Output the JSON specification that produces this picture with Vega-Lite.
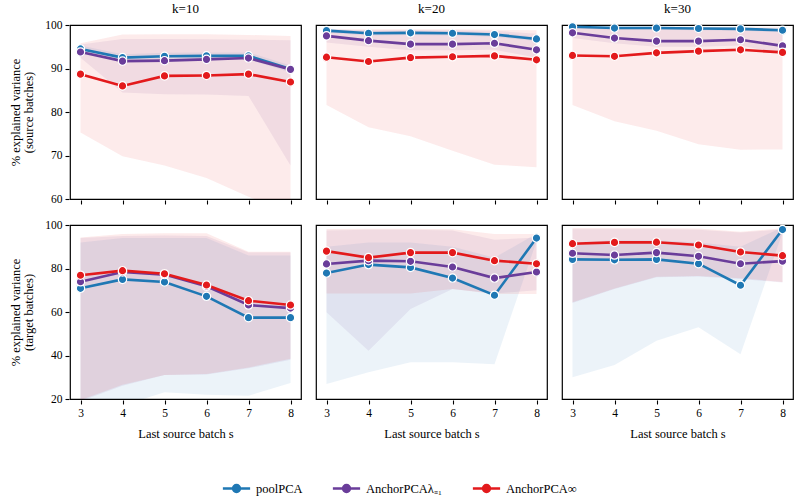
{
  "$schema": "https://vega.github.io/schema/vega-lite/v6.json",
  "background": "white",
  "padding": {"left": 9, "top": 3, "right": 5, "bottom": 5},
  "datasets": {
    "d": [
      {"set":"source","k":"k=10","s":3,"m":"poolPCA","v":94.5,"lo":93.7,"hi":95.3},
      {"set":"source","k":"k=10","s":4,"m":"poolPCA","v":92.5,"lo":91.7,"hi":93.3},
      {"set":"source","k":"k=10","s":5,"m":"poolPCA","v":92.8,"lo":92.0,"hi":93.6},
      {"set":"source","k":"k=10","s":6,"m":"poolPCA","v":92.9,"lo":92.1,"hi":93.7},
      {"set":"source","k":"k=10","s":7,"m":"poolPCA","v":92.9,"lo":92.1,"hi":93.7},
      {"set":"source","k":"k=10","s":8,"m":"poolPCA","v":89.9,"lo":89.1,"hi":90.7},
      {"set":"source","k":"k=10","s":3,"m":"AnchorPCAλ₌₁","v":93.8,"lo":92.5,"hi":95.5},
      {"set":"source","k":"k=10","s":4,"m":"AnchorPCAλ₌₁","v":91.7,"lo":84.5,"hi":96.8},
      {"set":"source","k":"k=10","s":5,"m":"AnchorPCAλ₌₁","v":91.8,"lo":84.1,"hi":96.8},
      {"set":"source","k":"k=10","s":6,"m":"AnchorPCAλ₌₁","v":92.1,"lo":84.0,"hi":96.7},
      {"set":"source","k":"k=10","s":7,"m":"AnchorPCAλ₌₁","v":92.4,"lo":83.7,"hi":96.6},
      {"set":"source","k":"k=10","s":8,"m":"AnchorPCAλ₌₁","v":89.8,"lo":67.7,"hi":96.5},
      {"set":"source","k":"k=10","s":3,"m":"AnchorPCA∞","v":88.7,"lo":75.3,"hi":95.8},
      {"set":"source","k":"k=10","s":4,"m":"AnchorPCA∞","v":86.0,"lo":69.8,"hi":97.8},
      {"set":"source","k":"k=10","s":5,"m":"AnchorPCA∞","v":88.3,"lo":67.7,"hi":97.9},
      {"set":"source","k":"k=10","s":6,"m":"AnchorPCA∞","v":88.4,"lo":64.8,"hi":97.9},
      {"set":"source","k":"k=10","s":7,"m":"AnchorPCA∞","v":88.7,"lo":60.5,"hi":97.7},
      {"set":"source","k":"k=10","s":8,"m":"AnchorPCA∞","v":86.9,"lo":57.0,"hi":97.5},

      {"set":"source","k":"k=20","s":3,"m":"poolPCA","v":98.7,"lo":98.2,"hi":99.2},
      {"set":"source","k":"k=20","s":4,"m":"poolPCA","v":98.1,"lo":97.6,"hi":98.6},
      {"set":"source","k":"k=20","s":5,"m":"poolPCA","v":98.2,"lo":97.7,"hi":98.7},
      {"set":"source","k":"k=20","s":6,"m":"poolPCA","v":98.1,"lo":97.6,"hi":98.6},
      {"set":"source","k":"k=20","s":7,"m":"poolPCA","v":97.8,"lo":97.3,"hi":98.3},
      {"set":"source","k":"k=20","s":8,"m":"poolPCA","v":96.8,"lo":96.3,"hi":97.3},
      {"set":"source","k":"k=20","s":3,"m":"AnchorPCAλ₌₁","v":97.5,"lo":96.0,"hi":98.8},
      {"set":"source","k":"k=20","s":4,"m":"AnchorPCAλ₌₁","v":96.4,"lo":95.0,"hi":98.8},
      {"set":"source","k":"k=20","s":5,"m":"AnchorPCAλ₌₁","v":95.6,"lo":94.2,"hi":98.8},
      {"set":"source","k":"k=20","s":6,"m":"AnchorPCAλ₌₁","v":95.6,"lo":94.2,"hi":98.8},
      {"set":"source","k":"k=20","s":7,"m":"AnchorPCAλ₌₁","v":95.8,"lo":94.3,"hi":98.7},
      {"set":"source","k":"k=20","s":8,"m":"AnchorPCAλ₌₁","v":94.3,"lo":92.5,"hi":98.0},
      {"set":"source","k":"k=20","s":3,"m":"AnchorPCA∞","v":92.6,"lo":81.6,"hi":99.0},
      {"set":"source","k":"k=20","s":4,"m":"AnchorPCA∞","v":91.6,"lo":76.5,"hi":99.0},
      {"set":"source","k":"k=20","s":5,"m":"AnchorPCA∞","v":92.5,"lo":74.4,"hi":99.0},
      {"set":"source","k":"k=20","s":6,"m":"AnchorPCA∞","v":92.7,"lo":71.1,"hi":99.0},
      {"set":"source","k":"k=20","s":7,"m":"AnchorPCA∞","v":92.9,"lo":67.9,"hi":98.9},
      {"set":"source","k":"k=20","s":8,"m":"AnchorPCA∞","v":92.0,"lo":67.3,"hi":98.8},

      {"set":"source","k":"k=30","s":3,"m":"poolPCA","v":99.6,"lo":99.2,"hi":100},
      {"set":"source","k":"k=30","s":4,"m":"poolPCA","v":99.3,"lo":98.9,"hi":99.7},
      {"set":"source","k":"k=30","s":5,"m":"poolPCA","v":99.3,"lo":98.9,"hi":99.7},
      {"set":"source","k":"k=30","s":6,"m":"poolPCA","v":99.2,"lo":98.8,"hi":99.6},
      {"set":"source","k":"k=30","s":7,"m":"poolPCA","v":99.1,"lo":98.7,"hi":99.5},
      {"set":"source","k":"k=30","s":8,"m":"poolPCA","v":98.8,"lo":98.4,"hi":99.2},
      {"set":"source","k":"k=30","s":3,"m":"AnchorPCAλ₌₁","v":98.2,"lo":97.0,"hi":99.5},
      {"set":"source","k":"k=30","s":4,"m":"AnchorPCAλ₌₁","v":97.0,"lo":95.8,"hi":99.4},
      {"set":"source","k":"k=30","s":5,"m":"AnchorPCAλ₌₁","v":96.3,"lo":95.0,"hi":99.4},
      {"set":"source","k":"k=30","s":6,"m":"AnchorPCAλ₌₁","v":96.3,"lo":95.0,"hi":99.4},
      {"set":"source","k":"k=30","s":7,"m":"AnchorPCAλ₌₁","v":96.6,"lo":95.3,"hi":99.3},
      {"set":"source","k":"k=30","s":8,"m":"AnchorPCAλ₌₁","v":95.2,"lo":93.3,"hi":99.0},
      {"set":"source","k":"k=30","s":3,"m":"AnchorPCA∞","v":93.0,"lo":81.6,"hi":99.5},
      {"set":"source","k":"k=30","s":4,"m":"AnchorPCA∞","v":92.8,"lo":77.9,"hi":99.5},
      {"set":"source","k":"k=30","s":5,"m":"AnchorPCA∞","v":93.6,"lo":75.7,"hi":99.5},
      {"set":"source","k":"k=30","s":6,"m":"AnchorPCA∞","v":94.0,"lo":72.6,"hi":99.5},
      {"set":"source","k":"k=30","s":7,"m":"AnchorPCA∞","v":94.3,"lo":71.3,"hi":99.5},
      {"set":"source","k":"k=30","s":8,"m":"AnchorPCA∞","v":93.7,"lo":71.4,"hi":99.5},

      {"set":"target","k":"k=10","s":3,"m":"poolPCA","v":70.9,"lo":18.0,"hi":92.0},
      {"set":"target","k":"k=10","s":4,"m":"poolPCA","v":75.0,"lo":17.0,"hi":94.0},
      {"set":"target","k":"k=10","s":5,"m":"poolPCA","v":73.8,"lo":23.1,"hi":94.0},
      {"set":"target","k":"k=10","s":6,"m":"poolPCA","v":67.2,"lo":22.0,"hi":94.0},
      {"set":"target","k":"k=10","s":7,"m":"poolPCA","v":57.4,"lo":21.5,"hi":86.0},
      {"set":"target","k":"k=10","s":8,"m":"poolPCA","v":57.4,"lo":27.4,"hi":86.0},
      {"set":"target","k":"k=10","s":3,"m":"AnchorPCAλ₌₁","v":73.9,"lo":19.0,"hi":94.0},
      {"set":"target","k":"k=10","s":4,"m":"AnchorPCAλ₌₁","v":78.4,"lo":26.1,"hi":95.0},
      {"set":"target","k":"k=10","s":5,"m":"AnchorPCAλ₌₁","v":77.2,"lo":31.0,"hi":95.2},
      {"set":"target","k":"k=10","s":6,"m":"AnchorPCAλ₌₁","v":71.8,"lo":31.3,"hi":95.0},
      {"set":"target","k":"k=10","s":7,"m":"AnchorPCAλ₌₁","v":63.2,"lo":34.1,"hi":87.4},
      {"set":"target","k":"k=10","s":8,"m":"AnchorPCAλ₌₁","v":61.8,"lo":38.1,"hi":87.4},
      {"set":"target","k":"k=10","s":3,"m":"AnchorPCA∞","v":76.9,"lo":19.5,"hi":94.2},
      {"set":"target","k":"k=10","s":4,"m":"AnchorPCA∞","v":79.0,"lo":26.5,"hi":95.9},
      {"set":"target","k":"k=10","s":5,"m":"AnchorPCA∞","v":77.6,"lo":31.0,"hi":96.2},
      {"set":"target","k":"k=10","s":6,"m":"AnchorPCA∞","v":72.4,"lo":31.5,"hi":96.2},
      {"set":"target","k":"k=10","s":7,"m":"AnchorPCA∞","v":65.2,"lo":34.5,"hi":87.7},
      {"set":"target","k":"k=10","s":8,"m":"AnchorPCA∞","v":63.2,"lo":38.5,"hi":87.7},

      {"set":"target","k":"k=20","s":3,"m":"poolPCA","v":77.9,"lo":26.9,"hi":90.0},
      {"set":"target","k":"k=20","s":4,"m":"poolPCA","v":81.8,"lo":32.3,"hi":92.0},
      {"set":"target","k":"k=20","s":5,"m":"poolPCA","v":80.5,"lo":36.9,"hi":92.0},
      {"set":"target","k":"k=20","s":6,"m":"poolPCA","v":75.6,"lo":36.9,"hi":90.0},
      {"set":"target","k":"k=20","s":7,"m":"poolPCA","v":67.7,"lo":36.0,"hi":85.0},
      {"set":"target","k":"k=20","s":8,"m":"poolPCA","v":94.0,"lo":92.5,"hi":96.0},
      {"set":"target","k":"k=20","s":3,"m":"AnchorPCAλ₌₁","v":82.1,"lo":59.9,"hi":97.5},
      {"set":"target","k":"k=20","s":4,"m":"AnchorPCAλ₌₁","v":83.6,"lo":42.2,"hi":97.8},
      {"set":"target","k":"k=20","s":5,"m":"AnchorPCAλ₌₁","v":83.3,"lo":61.4,"hi":97.8},
      {"set":"target","k":"k=20","s":6,"m":"AnchorPCAλ₌₁","v":80.7,"lo":70.6,"hi":97.5},
      {"set":"target","k":"k=20","s":7,"m":"AnchorPCAλ₌₁","v":75.6,"lo":68.5,"hi":93.2},
      {"set":"target","k":"k=20","s":8,"m":"AnchorPCAλ₌₁","v":78.4,"lo":70.0,"hi":94.3},
      {"set":"target","k":"k=20","s":3,"m":"AnchorPCA∞","v":88.0,"lo":68.5,"hi":98.2},
      {"set":"target","k":"k=20","s":4,"m":"AnchorPCA∞","v":85.0,"lo":68.5,"hi":98.3},
      {"set":"target","k":"k=20","s":5,"m":"AnchorPCA∞","v":87.3,"lo":68.5,"hi":98.3},
      {"set":"target","k":"k=20","s":6,"m":"AnchorPCA∞","v":87.3,"lo":70.6,"hi":98.0},
      {"set":"target","k":"k=20","s":7,"m":"AnchorPCA∞","v":83.6,"lo":68.3,"hi":95.9},
      {"set":"target","k":"k=20","s":8,"m":"AnchorPCA∞","v":82.2,"lo":68.3,"hi":95.9},

      {"set":"target","k":"k=30","s":3,"m":"poolPCA","v":84.2,"lo":30.0,"hi":92.0},
      {"set":"target","k":"k=30","s":4,"m":"poolPCA","v":84.0,"lo":35.6,"hi":93.0},
      {"set":"target","k":"k=30","s":5,"m":"poolPCA","v":84.2,"lo":46.8,"hi":93.0},
      {"set":"target","k":"k=30","s":6,"m":"poolPCA","v":82.2,"lo":53.0,"hi":92.0},
      {"set":"target","k":"k=30","s":7,"m":"poolPCA","v":72.3,"lo":40.6,"hi":90.0},
      {"set":"target","k":"k=30","s":8,"m":"poolPCA","v":97.9,"lo":96.5,"hi":99.0},
      {"set":"target","k":"k=30","s":3,"m":"AnchorPCAλ₌₁","v":87.0,"lo":64.1,"hi":98.0},
      {"set":"target","k":"k=30","s":4,"m":"AnchorPCAλ₌₁","v":86.2,"lo":70.6,"hi":98.0},
      {"set":"target","k":"k=30","s":5,"m":"AnchorPCAλ₌₁","v":87.3,"lo":76.0,"hi":98.0},
      {"set":"target","k":"k=30","s":6,"m":"AnchorPCAλ₌₁","v":85.6,"lo":76.3,"hi":97.8},
      {"set":"target","k":"k=30","s":7,"m":"AnchorPCAλ₌₁","v":82.2,"lo":75.2,"hi":96.5},
      {"set":"target","k":"k=30","s":8,"m":"AnchorPCAλ₌₁","v":83.4,"lo":73.6,"hi":98.0},
      {"set":"target","k":"k=30","s":3,"m":"AnchorPCA∞","v":91.4,"lo":64.5,"hi":98.6},
      {"set":"target","k":"k=30","s":4,"m":"AnchorPCA∞","v":92.0,"lo":70.8,"hi":98.6},
      {"set":"target","k":"k=30","s":5,"m":"AnchorPCA∞","v":92.1,"lo":76.2,"hi":98.6},
      {"set":"target","k":"k=30","s":6,"m":"AnchorPCA∞","v":90.8,"lo":76.5,"hi":98.4},
      {"set":"target","k":"k=30","s":7,"m":"AnchorPCA∞","v":87.6,"lo":75.5,"hi":96.9},
      {"set":"target","k":"k=30","s":8,"m":"AnchorPCA∞","v":85.9,"lo":73.8,"hi":98.5}
    ]
  },
  "vconcat": [
    {
      "data": {"name": "d"},
      "transform": [{"filter": "datum.set === 'source'"}],
      "facet": {"column": {"field": "k", "type": "nominal", "header": {"title": null, "labelFontSize": 13, "labelFontWeight": "normal", "labelPadding": 3}}},
      "spacing": 13,
      "spec": {
        "width": 231,
        "height": 174,
        "encoding": {
          "x": {"field": "s", "type": "quantitative", "scale": {"domain": [2.75, 8.25], "nice": false, "zero": false}, "axis": {"values": [3,4,5,6,7,8], "labels": false, "title": null}},
          "color": {"field": "m", "type": "nominal", "scale": {"domain": ["poolPCA", "AnchorPCAλ₌₁", "AnchorPCA∞"], "range": ["#1f78b4", "#6a3d9a", "#e31a1c"]},
            "legend": {"title": null, "orient": "bottom", "direction": "horizontal", "offset": 38, "columnPadding": 24, "labelFontSize": 12.5, "labelOffset": 9, "symbolType": "M-1.5,0H-0.5M0.5,0H1.5M-0.38,0A0.38,0.38,0,1,0,0.38,0A0.38,0.38,0,1,0,-0.38,0Z", "symbolSize": 330, "symbolStrokeWidth": 2.5, "symbolOpacity": 1,
              "encode": {"symbols": {"update": {"fill": {"scale": "color", "field": "value"}, "stroke": {"scale": "color", "field": "value"}, "opacity": {"value": 1}, "strokeWidth": {"value": 2.5}}}}}}
        },
        "layer": [
          {"mark": {"type": "area", "opacity": 0.085, "clip": true},
           "encoding": {"y": {"field": "lo", "type": "quantitative", "scale": {"domain": [60, 100], "nice": false, "zero": false}, "axis": {"values": [60,70,80,90,100], "title": ["% explained variance", "(source batches)"]}}, "y2": {"field": "hi"}}},
          {"mark": {"type": "line", "strokeWidth": 2.6, "clip": true},
           "encoding": {"y": {"field": "v", "type": "quantitative"}}},
          {"mark": {"type": "point", "filled": true, "size": 70, "stroke": "white", "strokeWidth": 1.2, "opacity": 1, "clip": false},
           "encoding": {"y": {"field": "v", "type": "quantitative"}}}
        ]
      }
    },
    {
      "data": {"name": "d"},
      "transform": [{"filter": "datum.set === 'target'"}],
      "facet": {"column": {"field": "k", "type": "nominal", "header": null}},
      "spacing": 13,
      "spec": {
        "width": 231,
        "height": 174,
        "encoding": {
          "x": {"field": "s", "type": "quantitative", "scale": {"domain": [2.75, 8.25], "nice": false, "zero": false}, "axis": {"values": [3,4,5,6,7,8], "title": "Last source batch s"}},
          "color": {"field": "m", "type": "nominal"}
        },
        "layer": [
          {"mark": {"type": "area", "opacity": 0.085, "clip": true},
           "encoding": {"y": {"field": "lo", "type": "quantitative", "scale": {"domain": [20, 100], "nice": false, "zero": false}, "axis": {"values": [20,40,60,80,100], "title": ["% explained variance", "(target batches)"]}}, "y2": {"field": "hi"}}},
          {"mark": {"type": "line", "strokeWidth": 2.6, "clip": true},
           "encoding": {"y": {"field": "v", "type": "quantitative"}}},
          {"mark": {"type": "point", "filled": true, "size": 70, "stroke": "white", "strokeWidth": 1.2, "opacity": 1, "clip": false},
           "encoding": {"y": {"field": "v", "type": "quantitative"}}}
        ]
      }
    }
  ],
  "spacing": 14,
  "resolve": {"scale": {"y": "independent"}},
  "config": {
    "font": "Liberation Serif",
    "view": {"stroke": "black", "strokeWidth": 1.2},
    "axis": {"grid": false, "domain": false, "tickColor": "black", "tickSize": 4, "tickWidth": 1.1, "labelColor": "black", "labelFontSize": 11.5, "titleFontSize": 12.5, "titleColor": "black", "titleFontWeight": "normal", "labelFont": "Liberation Serif", "titleFont": "Liberation Serif", "labelPadding": 3, "titlePadding": 9, "titleLineHeight": 13},
    "header": {"labelFont": "Liberation Serif", "labelColor": "black", "labelFontWeight": "normal"},
    "legend": {"labelFont": "Liberation Serif", "labelColor": "black", "layout": {"bottom": {"anchor": "middle"}}}
  }
}
